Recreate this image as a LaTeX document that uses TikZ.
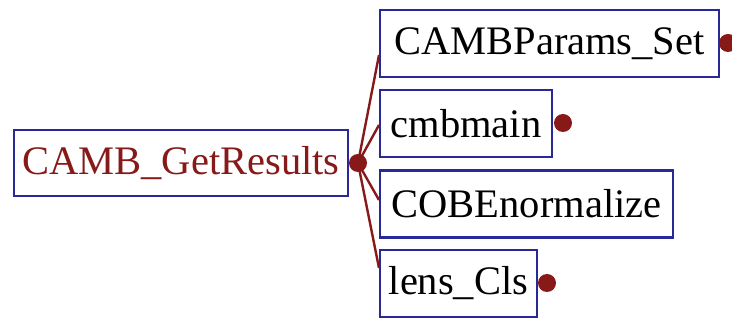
\documentclass[tikz,border=0pt]{standalone}
\usepackage{fontspec}
\setmainfont{Liberation Serif}
\definecolor{boxblue}{RGB}{40,40,150}
\definecolor{darkred}{RGB}{135,25,25}
\begin{document}
\begin{tikzpicture}[x=1pt,y=-1pt,
  fbox/.style={draw=boxblue,line width=2.4pt,fill=white,inner sep=0pt,font=\fontsize{40.5}{44}\selectfont,anchor=center},
  conn/.style={draw=darkred,line width=2.4pt},
  dotm/.style={circle,fill=darkred,inner sep=0pt,minimum size=18pt}]
\useasboundingbox (0,0) rectangle (732,320);
\node[fbox,minimum width=334pt,minimum height=66pt,text=darkred] (gr) at (181,163) {CAMB\_GetResults};
\node[fbox,minimum width=339pt,minimum height=67pt] (ps) at (549.5,43.5) {CAMBParams\_Set};
\node[fbox,minimum width=172pt,minimum height=67pt] (cm) at (466,123.5) {cmbmain};
\node[fbox,minimum width=293pt,minimum height=67pt] (cb) at (526.5,204) {COBEnormalize};
\node[fbox,minimum width=157pt,minimum height=67pt] (lc) at (458.5,283.5) {lens\_Cls};
\node[dotm] (d1) at (728,43) {};
\node[dotm] (d2) at (563,123) {};
\node[dotm] (d4) at (547,283) {};
\coordinate (e1) at (379,55);
\coordinate (e2) at (379,125);
\coordinate (e3) at (379,200);
\coordinate (e4) at (379,268);
\draw[conn] (358,163) -- (e1);
\draw[conn] (358,163) -- (e2);
\draw[conn] (358,163) -- (e3);
\draw[conn] (358,163) -- (e4);
\node[dotm] (d0) at (358,163) {};
\end{tikzpicture}
\end{document}
